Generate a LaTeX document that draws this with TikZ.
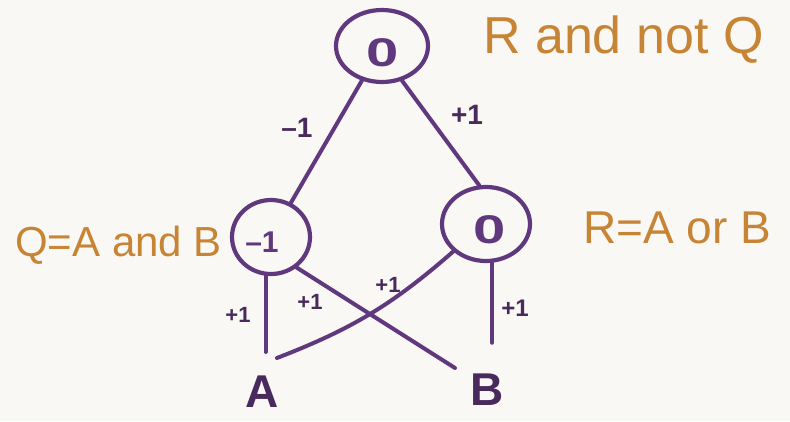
\documentclass[tikz,border=0pt]{standalone}
\usepackage{fontspec}
\setmainfont{Liberation Sans}
\usetikzlibrary{shapes.geometric}
\definecolor{ink}{RGB}{96,56,126}
\definecolor{darkink}{RGB}{72,42,92}
\definecolor{amber}{RGB}{198,132,52}
\definecolor{paper}{RGB}{250,248,244}
\begin{document}
\begin{tikzpicture}[x=1pt,y=-1pt,
  neuron/.style={ellipse, draw=ink, line width=4.2pt, inner sep=0pt},
  wire/.style={draw=ink, line width=4pt, line cap=round},
  digit/.style={text=ink, inner sep=0pt, font=\fontsize{#1}{#1}\selectfont\bfseries},
  wlabel/.style={text=darkink, inner sep=0pt, font=\fontsize{#1}{#1}\selectfont\bfseries},
  desc/.style={text=amber, inner sep=0pt, anchor=west, font=\fontsize{#1}{#1}\selectfont},
  inlet/.style={text=darkink, inner sep=2pt, font=\fontsize{46}{46}\selectfont\bfseries}
]
\fill[paper] (0,0) rectangle (790,421);
\useasboundingbox (0,0) rectangle (790,421);

% neurons
\node[neuron, minimum width=92pt, minimum height=72pt] (T) at (382,46) {};
\node[neuron, minimum width=78pt, minimum height=74pt] (Q) at (271,237) {};
\node[neuron, minimum width=88pt, minimum height=74pt] (R) at (486,224) {};

\node[digit=40] (Tv) at (383,53) {\scalebox{1.45}[1]{0}};
\node[digit=30] (Qv) at (262,242) {–1};
\node[digit=40] (Rv) at (490,230) {\scalebox{1.45}[1]{0}};

% inputs
\node[inlet] (A) at (262,392) {A};
\node[inlet] (B) at (487,390) {B};
\coordinate (Aq) at ([yshift=22pt]A.north);

% descriptions
\node[desc=52] (dT) at (483,40) {R and not Q};
\node[desc=42] (dQ) at (15,245) {Q=A and B};
\node[desc=46] (dR) at (583,228) {R=A or B};

% connectors
\draw[wire] (T) -- (Q);
\draw[wire] (T.300) -- (R.100);
\draw[wire] (Q.262) -- (Q.262 |- Aq);
\draw[wire] (Q.310) -- ([xshift=-32pt,yshift=4pt]B.north);
\draw[wire] (R.220) to[bend left=10] ([xshift=15pt,yshift=16pt]A.north);
\draw[wire] (R.279) -- ++(0,80);

% weights
\node[wlabel=28] (w1) at (297,128) {–1};
\node[wlabel=28] (w2) at (467,115) {+1};
\node[wlabel=22] (w3) at (238,315) {+1};
\node[wlabel=22] (w4) at (310,302) {+1};
\node[wlabel=22] (w5) at (388,285) {+1};
\node[wlabel=24] (w6) at (515,308) {+1};
\end{tikzpicture}
\end{document}
